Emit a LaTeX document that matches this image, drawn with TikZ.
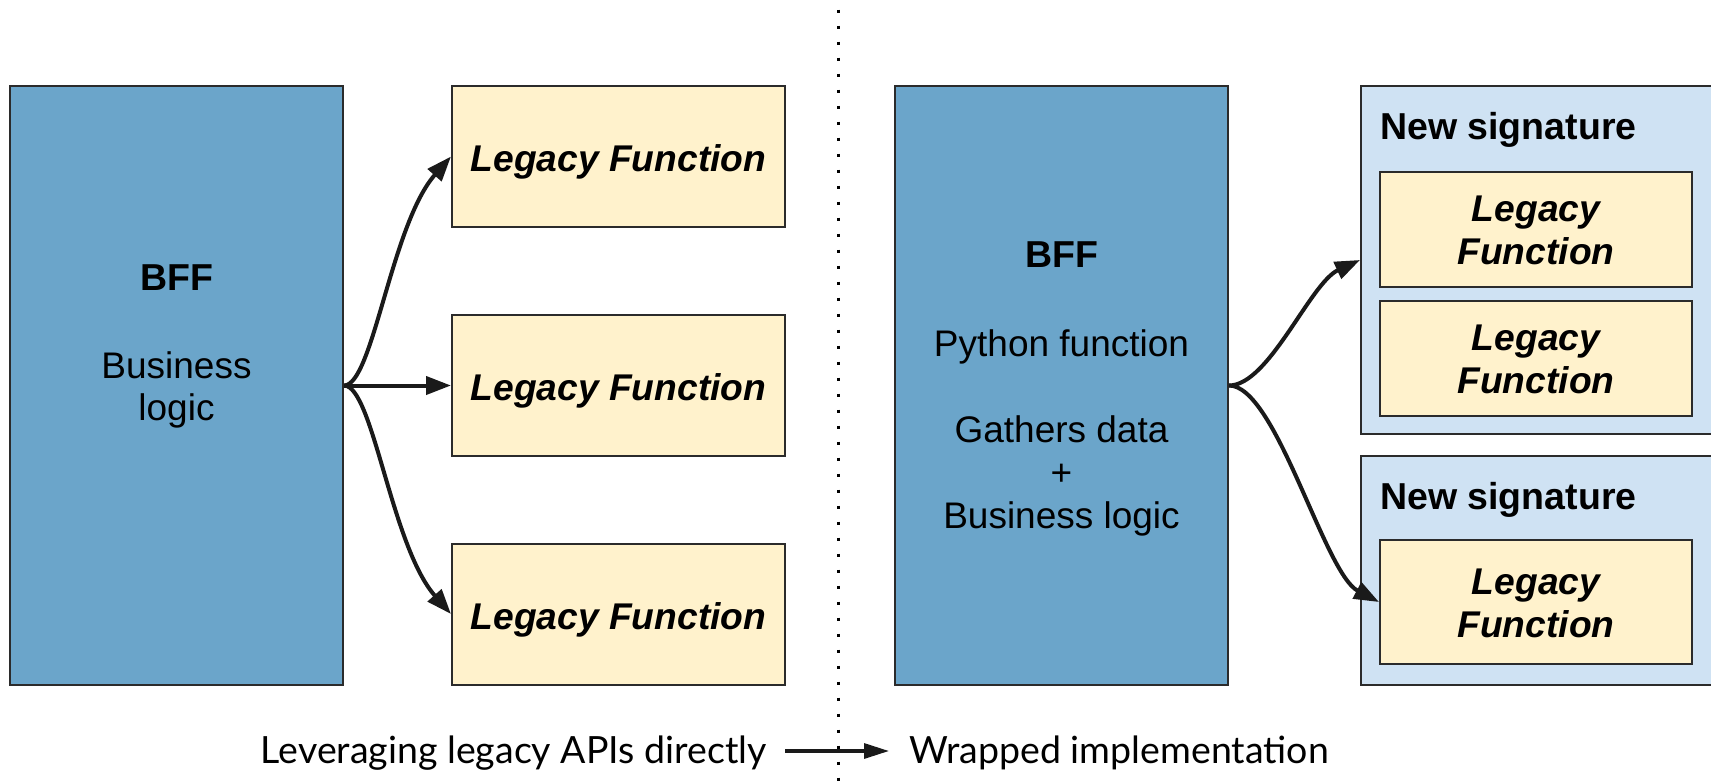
\documentclass[tikz,border=0pt]{standalone}
\usepackage{fontspec}
\setmainfont{Liberation Sans}
\newfontfamily\capfont{Lato}
\usetikzlibrary{arrows.meta}

\definecolor{bffblue}{HTML}{6BA5CA}
\definecolor{legacyyellow}{HTML}{FFF2CC}
\definecolor{sigblue}{HTML}{CFE2F3}
\definecolor{edge}{HTML}{2B2B2B}
\definecolor{ink}{HTML}{1A1A1A}

\tikzset{
  box/.style={rectangle, draw=edge, line width=2pt, inner sep=0pt, anchor=center},
  bffbox/.style={box, fill=bffblue, minimum width=333pt, minimum height=599pt},
  legbox/.style={box, fill=legacyyellow, minimum width=333pt, minimum height=141pt},
  sigbox/.style={box, fill=sigblue, minimum width=353pt},
  innerbox/.style={box, fill=legacyyellow, minimum width=312pt},
  txt/.style={inner sep=0pt, anchor=base, font=\fontsize{37}{43}\selectfont},
  bold/.style={txt, font=\fontsize{37.5}{43}\selectfont\bfseries},
  legtxt/.style={txt, font=\fontsize{37.2}{43}\selectfont\bfseries\itshape},
  captxt/.style={inner sep=0pt, font=\fontsize{37.5}{44}\selectfont\capfont},
  conn/.style={draw=ink, line width=4pt, -{Triangle[length=25pt,width=18pt]}},
  capconn/.style={draw=ink, line width=3.2pt, -{Triangle[length=25pt,width=15pt]}},
  divider/.style={draw=black, line width=3pt, dash pattern=on 3pt off 13pt}
}

\begin{document}
\begin{tikzpicture}[x=1pt, y=-1pt]
  \useasboundingbox (0,0) rectangle (1711,782);

  % separator between the two halves
  \draw[divider] (838,9.5) -- (838,782);

  % ---------- left half: calling legacy APIs directly ----------
  \node[bffbox] (bffL) at (176.5,385.5) {};
  \node[bold] (bffLtitle) at (176.5,290) {BFF};
  \node[txt] (bffLa) at (176.5,378) {Business};
  \node[txt] (bffLb) at (176.5,420.5) {logic};

  \node[legbox] (leg1) at (618.5,156.5) {};
  \node[legbox] (leg2) at (618.5,385.5) {};
  \node[legbox] (leg3) at (618.5,614) {};
  \node[legtxt] (leg1t) at (618.5,171.5) {Legacy Function};
  \node[legtxt] (leg2t) at (618.5,400.5) {Legacy Function};
  \node[legtxt] (leg3t) at (618.5,629) {Legacy Function};

  \draw[conn] (bffL.east) .. controls +(29,0) and +(-60,68) .. (leg1.west);
  \draw[conn] (bffL.east) -- (leg2.west);
  \draw[conn] (bffL.east) .. controls +(29,0) and +(-60,-68) .. (leg3.west);

  % ---------- right half: wrapped implementation ----------
  \node[bffbox] (bffR) at (1061.5,385.5) {};
  \node[bold] (bffRtitle) at (1061.5,267.5) {BFF};
  \node[txt] (bffRa) at (1061.5,356) {Python function};
  \node[txt] (bffRb) at (1061.5,442.5) {Gathers data};
  \node[txt] (bffRc) at (1061.5,485.5) {+};
  \node[txt] (bffRd) at (1061.5,528.3) {Business logic};

  \node[sigbox, minimum height=348pt] (sig1) at (1537.5,260) {};
  \node[bold, anchor=base west] (sig1t) at (1380,139.5) {New signature};
  \node[innerbox, minimum height=115pt] (in1) at (1536,229) {};
  \node[legtxt] (in1a) at (1536,221) {Legacy};
  \node[legtxt] (in1b) at (1536,264) {Function};
  \node[innerbox, minimum height=115pt] (in2) at (1536,358) {};
  \node[legtxt] (in2a) at (1536,350) {Legacy};
  \node[legtxt] (in2b) at (1536,393) {Function};

  \node[sigbox, minimum height=229pt] (sig2) at (1537.5,570.5) {};
  \node[bold, anchor=base west] (sig2t) at (1380,509) {New signature};
  \node[innerbox, minimum height=124pt] (in3) at (1536,602) {};
  \node[legtxt] (in3a) at (1536,594) {Legacy};
  \node[legtxt] (in3b) at (1536,637) {Function};

  \draw[conn] (bffR.east) .. controls +(40,0) and +(-50,23) .. (sig1.west);
  \draw[conn] (bffR.east) .. controls +(47,0) and +(-55,-29) .. (in3.west);

  % ---------- caption ----------
  \node[captxt, anchor=base east] (capL) at (767,763.5) {Leveraging legacy APIs directly};
  \node[captxt, anchor=base west] (capR) at (909,763.5) {Wrapped implementation};
  \draw[capconn, shorten <=18pt, shorten >=20pt] (capL.east |- 0,751) -- (capR.west |- 0,751);
\end{tikzpicture}
\end{document}
